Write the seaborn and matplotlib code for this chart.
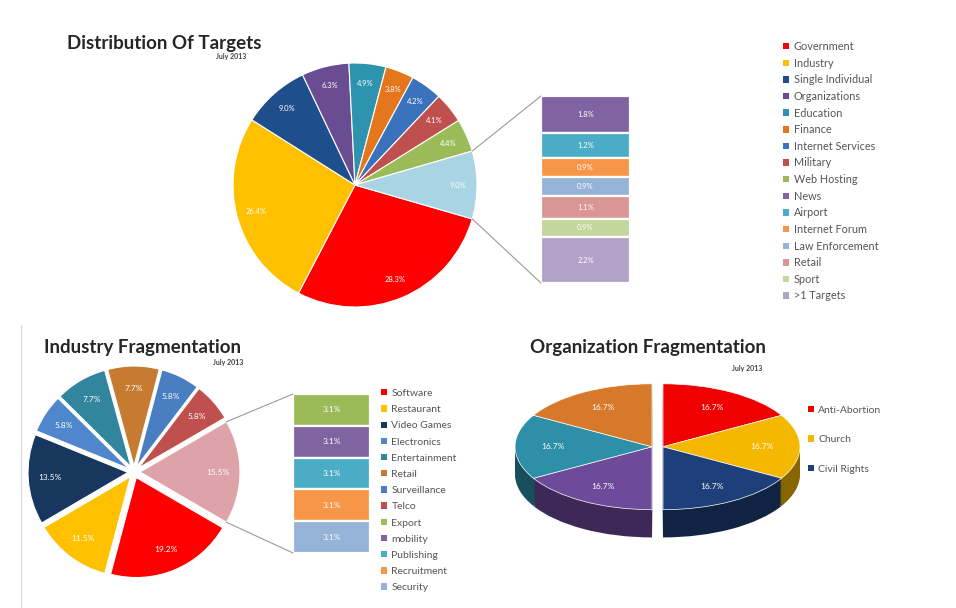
import numpy as np
import matplotlib
matplotlib.use("Agg")
import matplotlib.pyplot as plt
from matplotlib.patches import Patch
from matplotlib.lines import Line2D
from matplotlib.colors import to_rgb
import seaborn as sns

sns.set_theme(style="white")
plt.rcParams['font.family'] = ['Lato', 'DejaVu Sans']

# ---------------- data ----------------
tgt_main_labels = ["Government", "Industry", "Single Individual", "Organizations", "Education",
                   "Finance", "Internet Services", "Military", "Web Hosting"]
tgt_main_values = [28.3, 26.4, 9.0, 6.3, 4.9, 3.8, 4.2, 4.1, 4.4]
tgt_main_colors = ["#FF0000", "#FFC000", "#1F4E8C", "#6A4C93", "#2E93AE",
                   "#E4761E", "#3A72BC", "#C0504D", "#9BBB59"]
tgt_other_color = "#A9D4E4"
tgt_other_labels = ["News", "Airport", "Internet Forum", "Law Enforcement", "Retail", "Sport", ">1 Targets"]
tgt_other_values = [1.8, 1.2, 0.9, 0.9, 1.1, 0.9, 2.2]
tgt_other_colors = ["#8064A2", "#4BACC6", "#F79646", "#95B3D7", "#D99694", "#C3D69B", "#B3A2C7"]

ind_main_labels = ["Software", "Restaurant", "Video Games", "Electronics", "Entertainment",
                   "Retail", "Surveillance", "Telco"]
ind_main_values = [19.2, 11.5, 13.5, 5.8, 7.7, 7.7, 5.8, 5.8]
ind_main_colors = ["#FF0000", "#FFC000", "#17375E", "#4F86CC", "#31859C",
                   "#C77B30", "#4A7EC2", "#C0504D"]
ind_other_color = "#DDA3A8"
ind_other_labels = ["Export", "mobility", "Publishing", "Recruitment", "Security"]
ind_other_values = [3.1, 3.1, 3.1, 3.1, 3.1]
ind_other_colors = ["#9BBB59", "#8064A2", "#4BACC6", "#F79646", "#95B3D7"]

org_labels = ["Anti-Abortion", "Church", "Civil Rights", "Other 1", "Other 2", "Other 3"]
org_values = [16.7, 16.7, 16.7, 16.7, 16.7, 16.7]
org_colors = ["#F00000", "#F5B800", "#1F3F7A", "#6E4A9A", "#2E8FA8", "#D7792A"]

W, H = 956, 608
fig = plt.figure(figsize=(W / 100, H / 100), dpi=100)
fig.patch.set_facecolor("white")


def px_axes(x0, y0, w, h):
    return fig.add_axes([x0 / W, 1 - (y0 + h) / H, w / W, h / H])


def to_fig(ax, pt):
    return fig.transFigure.inverted().transform(ax.transData.transform(pt))


def darken(c, f):
    r, g, b = to_rgb(c)
    return (r * f, g * f, b * f)


def bar_of_pie(cx, cy, r, main_vals, main_cols, oth_color, oth_vals, oth_cols,
               bar_box, explode, lab_fs, pctdist, bar_fs):
    ax = px_axes(cx - 1.15 * r, cy - 1.15 * r, 2.3 * r, 2.3 * r)
    other_total = float(sum(oth_vals))
    vals = list(main_vals) + [other_total]
    cols = list(main_cols) + [oth_color]
    total = float(sum(vals))
    half = other_total / total * 180.0
    wedges, texts, autotexts = ax.pie(
        vals, colors=cols, startangle=-half, counterclock=False,
        explode=[explode] * len(vals), radius=1,
        autopct=lambda p: f"{p * total / 100:.1f}%", pctdistance=pctdist,
        wedgeprops=dict(linewidth=0.8, edgecolor="white"),
        textprops=dict(color="white", fontsize=lab_fs))
    ax.set_xlim(-1.15, 1.15)
    ax.set_ylim(-1.15, 1.15)
    ax.axis("off")

    bx, by, bw, bh = bar_box
    axb = px_axes(bx, by, bw, bh)
    ov = np.array(oth_vals, dtype=float)
    bottoms = other_total - np.cumsum(ov)
    axb.bar(np.zeros(len(ov)), ov, bottom=bottoms, width=1.0, color=oth_cols,
            edgecolor="white", linewidth=1.6)
    for b, v in zip(bottoms, ov):
        axb.text(0, b + v / 2, f"{v:.1f}%", color="white", fontsize=bar_fs,
                 ha="center", va="center")
    axb.set_xlim(-0.5, 0.5)
    axb.set_ylim(0, other_total)
    axb.axis("off")

    w = wedges[-1]
    c = np.array(w.center)
    t_up, t_lo = np.deg2rad(max(w.theta1, w.theta2)), np.deg2rad(min(w.theta1, w.theta2))
    p_up = to_fig(ax, c + w.r * np.array([np.cos(t_up), np.sin(t_up)]))
    p_lo = to_fig(ax, c + w.r * np.array([np.cos(t_lo), np.sin(t_lo)]))
    b_up = to_fig(axb, (-0.5, other_total))
    b_lo = to_fig(axb, (-0.5, 0))
    for p, q in ((p_up, b_up), (p_lo, b_lo)):
        fig.add_artist(Line2D([p[0], q[0]], [p[1], q[1]], transform=fig.transFigure,
                              color="#9A9A9A", lw=0.8))
    return ax


def legend_at(x, y, labels, colors, fs, spacing):
    handles = [Patch(facecolor=c, edgecolor="none") for c in colors]
    fig.legend(handles, labels, loc="upper left", bbox_to_anchor=(x / W, 1 - y / H),
               frameon=False, fontsize=fs, handlelength=0.55, handleheight=0.55,
               handletextpad=0.45, labelspacing=spacing, borderaxespad=0, borderpad=0,
               labelcolor="#555555")


def title_at(x, y, text, sub_x, sub_y):
    fig.text(x / W, 1 - y / H, text, fontsize=13.5, fontweight="bold",
             color="#262626", ha="left", va="center")
    fig.text(sub_x / W, 1 - sub_y / H, "July 2013", fontsize=5, fontweight="bold",
             color="#404040", ha="right", va="center")


# ---------------- chart 1: Distribution Of Targets ----------------
title_at(67, 43, "Distribution Of Targets", 246, 57)
bar_of_pie(355, 185, 122, tgt_main_values, tgt_main_colors, tgt_other_color,
           tgt_other_values, tgt_other_colors, (541, 96, 89, 187),
           explode=0.0, lab_fs=5.5, pctdist=0.84, bar_fs=5.5)
legend_at(783, 41, tgt_main_labels + tgt_other_labels,
          tgt_main_colors + tgt_other_colors, 7.8, 0.52)

# ---------------- chart 2: Industry Fragmentation ----------------
title_at(44, 347, "Industry Fragmentation", 243, 363)
bar_of_pie(134, 472, 100, ind_main_values, ind_main_colors, ind_other_color,
           ind_other_values, ind_other_colors, (293, 394, 77, 159),
           explode=0.06, lab_fs=6, pctdist=0.78, bar_fs=6)
legend_at(381, 389, ind_main_labels + ind_other_labels,
          ind_main_colors + ind_other_colors, 7.5, 0.69)

# ---------------- chart 3: Organization Fragmentation (3D-style) ----------------
title_at(530, 348, "Organization Fragmentation", 762, 368)
ax3 = px_axes(500, 375, 315, 175)
depth = 0.44
gap = 0.04
layers = np.linspace(-depth, 0, 16)
for i, dy in enumerate(layers):
    top = (i == len(layers) - 1)
    cols = org_colors if top else [darken(c, 0.55) for c in org_colors]
    wedges, _ = ax3.pie(org_values, colors=cols, startangle=90, counterclock=False,
                        center=(0, dy), radius=1, frame=True,
                        wedgeprops=dict(linewidth=0.5 if top else 0,
                                        edgecolor="#FFFFFF" if top else "none"))
    for w in wedges:
        mid = np.deg2rad((w.theta1 + w.theta2) / 2)
        sx = gap if np.cos(mid) > 0 else -gap
        w.set_center((w.center[0] + sx, w.center[1]))
        if top:
            ax3.text(w.center[0] + 0.72 * np.cos(mid), w.center[1] + 0.72 * np.sin(mid),
                     "16.7%", color="white", fontsize=6, ha="center", va="center")
ax3.set_aspect("auto")
ax3.set_xlim(-1.15, 1.15)
ax3.set_ylim(-1.64, 1.14)
ax3.axis("off")
legend_at(808, 406, org_labels[:3], org_colors[:3], 7.5, 1.95)

# faint frame line
fig.add_artist(Line2D([21 / W, 21 / W], [0, 1 - 325 / H], transform=fig.transFigure,
                      color="#D4D4D4", lw=0.8))

fig.savefig("out.png", dpi=100, facecolor="white")
